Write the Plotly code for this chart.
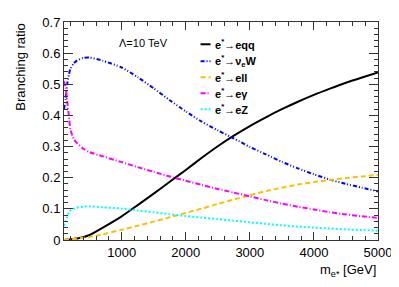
import plotly.graph_objects as go

# Data
mass = [100, 125, 150, 175, 200, 250, 300, 400, 500, 700, 1000, 1250, 1500, 1750,
        2000, 2250, 2500, 2750, 3000, 3250, 3500, 3750, 4000, 4250, 4500, 4750, 5000]
br_eqq = [0.0, 0.0005, 0.001, 0.0015, 0.002, 0.003, 0.005, 0.009, 0.016, 0.039, 0.076,
          0.112, 0.149, 0.187, 0.225, 0.264, 0.301, 0.335, 0.366, 0.394, 0.42, 0.444,
          0.466, 0.486, 0.505, 0.522, 0.538]
br_nuW = [0.42, 0.455, 0.50, 0.53, 0.55, 0.567, 0.576, 0.585, 0.586, 0.576, 0.554,
          0.523, 0.487, 0.449, 0.413, 0.38, 0.352, 0.326, 0.299, 0.275, 0.251, 0.23,
          0.211, 0.194, 0.18, 0.168, 0.156]
br_ell = [0.0, 0.0005, 0.001, 0.0015, 0.002, 0.003, 0.004, 0.007, 0.01, 0.018, 0.033,
          0.046, 0.059, 0.073, 0.087, 0.101, 0.116, 0.13, 0.144, 0.157, 0.168, 0.178,
          0.186, 0.193, 0.199, 0.204, 0.209]
br_egam = [0.51, 0.49, 0.445, 0.40, 0.355, 0.325, 0.312, 0.293, 0.282, 0.269, 0.25,
           0.234, 0.219, 0.204, 0.19, 0.177, 0.164, 0.152, 0.14, 0.128, 0.117, 0.107,
           0.098, 0.089, 0.082, 0.076, 0.071]
br_eZ = [0.045, 0.058, 0.075, 0.088, 0.095, 0.1, 0.104, 0.107, 0.108, 0.105, 0.101,
         0.095, 0.089, 0.083, 0.077, 0.072, 0.067, 0.062, 0.057, 0.052, 0.047, 0.043,
         0.040, 0.037, 0.034, 0.032, 0.030]

x_ticks = [1000, 2000, 3000, 4000, 5000]
x_tick_labels = ["1000", "2000", "3000", "4000", "5000"]
y_ticks = [0, 0.1, 0.2, 0.3, 0.4, 0.5, 0.6, 0.7]
y_tick_labels = ["0", "0.1", "0.2", "0.3", "0.4", "0.5", "0.6", "0.7"]

labels = ["<b>e<sup>*</sup>→eqq</b>", "<b>e<sup>*</sup>→ν<sub>e</sub>W</b>",
          "<b>e<sup>*</sup>→ell</b>", "<b>e<sup>*</sup>→eγ</b>", "<b>e<sup>*</sup>→eZ</b>"]
colors = ["#000000", "#0000ff", "#ffbf00", "#ff00ff", "#00ffff"]
dashes = ["solid", "4px,2px,1px,2px,1px,2px", "5px,3px", "5px,2px,1px,2px", "2px,2px"]
series = [br_eqq, br_nuW, br_ell, br_egam, br_eZ]

# the page body adds an 8px offset; layout below is in window pixels
OFF = 8
W, H = 399 - OFF, 287 - OFF
L, R, T, B = 64 - OFF, 20, 15 - OFF, 47
pw, ph = W - L - R, H - T - B

def px2x(px):
    return (px - OFF - L) / pw

def py2y(py):
    return (H - B - (py - OFF)) / ph

fig = go.Figure()
for ys, c, d in zip(series, colors, dashes):
    fig.add_trace(go.Scatter(x=mass, y=ys, mode="lines", showlegend=False,
                             line=dict(color=c, width=2, dash=d, shape="spline", smoothing=0.6)))

font = "Liberation Sans, Arial, Helvetica, sans-serif"
shapes = []
annotations = []
rows = [38, 55.5, 72, 88.5, 105]
for lab, c, d, ry in zip(labels, colors, dashes, rows):
    shapes.append(dict(type="line", xref="paper", yref="paper",
                       x0=px2x(201), x1=px2x(211), y0=py2y(ry), y1=py2y(ry),
                       line=dict(color=c, width=2, dash=d)))
    annotations.append(dict(xref="paper", yref="paper", x=px2x(213), y=py2y(ry),
                            xanchor="left", yanchor="middle", showarrow=False,
                            text=lab, font=dict(family=font, size=11, color="black")))

annotations.append(dict(xref="paper", yref="paper", x=px2x(144), y=py2y(36.5),
                        xanchor="center", yanchor="middle", showarrow=False,
                        text="Λ=10 TeV", font=dict(family=font, size=11, color="black")))
annotations.append(dict(xref="paper", yref="paper", x=px2x(20), y=1.0,
                        xanchor="center", yanchor="top", showarrow=False, textangle=-90,
                        text="Branching ratio", font=dict(family=font, size=13, color="black")))
annotations.append(dict(xref="paper", yref="paper", x=1.0, y=py2y(271.5),
                        xanchor="right", yanchor="middle", showarrow=False,
                        text="m<sub>e*</sub> [GeV]", font=dict(family=font, size=13, color="black")))

axcol = "#333333"
fig.update_layout(
    width=W, height=H,
    margin=dict(l=L, r=R, t=T, b=B),
    paper_bgcolor="white", plot_bgcolor="white",
    font=dict(family=font, size=13, color="black"),
    shapes=shapes, annotations=annotations,
    xaxis=dict(range=[100, 5000], tickmode="array", tickvals=x_ticks, ticktext=x_tick_labels,
               ticks="inside", ticklen=8, tickcolor=axcol, showline=True, linecolor=axcol,
               linewidth=1, mirror="ticks", showgrid=False, zeroline=False,
               ticklabeloverflow="allow",
               minor=dict(ticks="inside", ticklen=4, dtick=200, tick0=0, tickcolor=axcol, showgrid=False),
               tickfont=dict(size=13)),
    yaxis=dict(range=[0, 0.7001], tickmode="array", tickvals=y_ticks, ticktext=y_tick_labels,
               ticks="inside", ticklen=9, tickcolor=axcol, showline=True, linecolor=axcol,
               linewidth=1, mirror="ticks", showgrid=False, zeroline=False,
               ticklabeloverflow="allow",
               minor=dict(ticks="inside", ticklen=4, dtick=0.02, tick0=0, tickcolor=axcol, showgrid=False),
               tickfont=dict(size=13)),
)

fig.write_html("out.html")
